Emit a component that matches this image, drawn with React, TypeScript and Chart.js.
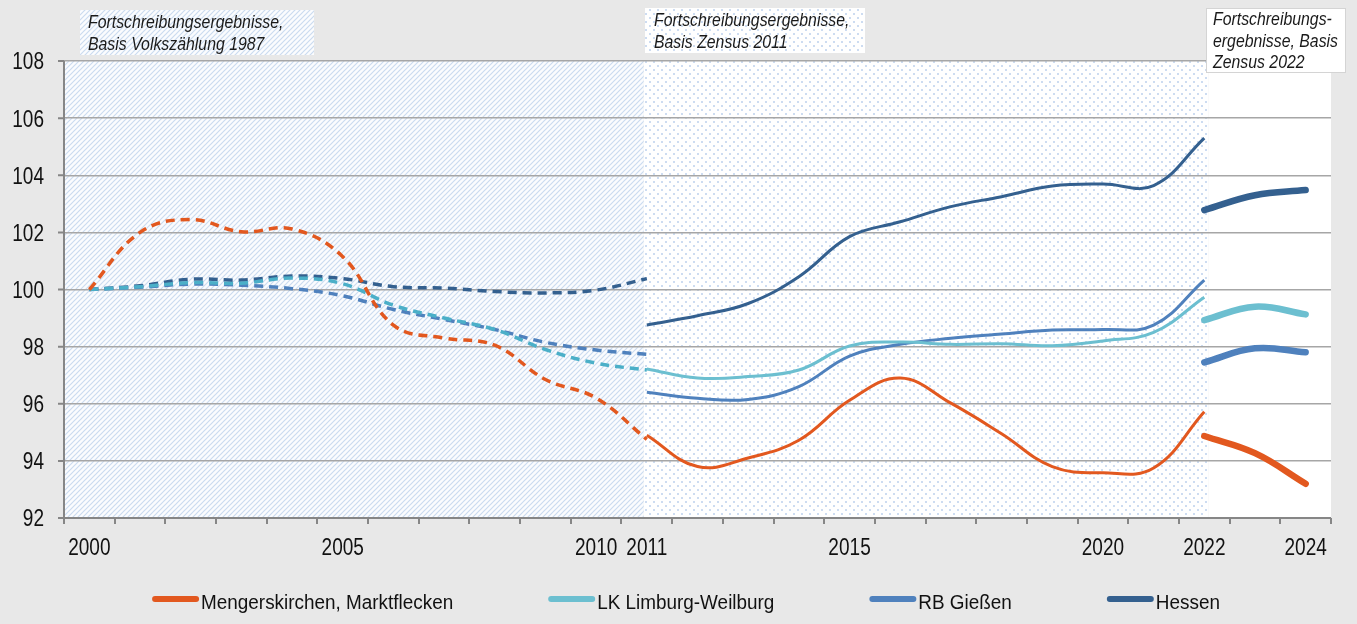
import React, { useEffect, useRef } from 'react';
import { Chart, registerables } from 'chart.js';

Chart.register(...registerables);

// ---------- data ----------
const years = [
  '2000', '2001', '2002', '2003', '2004', '2005', '2006', '2007', '2008', '2009',
  '2010', '2011', '2012', '2013', '2014', '2015', '2016', '2017', '2018', '2019',
  '2020', '2021', '2022', '2023', '2024',
];
const shownYearLabels = ['2000', '2005', '2010', '2011', '2015', '2020', '2022', '2024'];
const yTickValues = [92, 94, 96, 98, 100, 102, 104, 106, 108];

const seriesNames = ['Mengerskirchen, Marktflecken', 'LK Limburg-Weilburg', 'RB Gießen', 'Hessen'];

// Fortschreibung, Basis Volkszählung 1987 (2000-2011)
const mengerVZ1987 = [100, 102.0, 102.45, 102.02, 102.12, 101.15, 98.75, 98.3, 98.05, 96.85, 96.2, 94.75];
const limburgVZ1987 = [100, 100.1, 100.24, 100.22, 100.4, 100.2, 99.45, 99.0, 98.6, 97.9, 97.42, 97.18];
const giessenVZ1987 = [100, 100.08, 100.19, 100.15, 100.03, 99.78, 99.3, 98.95, 98.6, 98.15, 97.88, 97.73];
const hessenVZ1987 = [100, 100.13, 100.36, 100.33, 100.47, 100.38, 100.1, 100.05, 99.93, 99.88, 99.98, 100.38];

// Fortschreibung, Basis Zensus 2011 (2011-2022)
const mengerZ2011 = [94.9, 93.8, 94.1, 94.72, 96.12, 96.9, 96.02, 94.95, 93.8, 93.58, 93.75, 95.72];
const limburgZ2011 = [97.22, 96.9, 96.95, 97.18, 98.02, 98.16, 98.08, 98.1, 98.03, 98.2, 98.5, 99.73];
const giessenZ2011 = [96.4, 96.19, 96.15, 96.6, 97.67, 98.08, 98.29, 98.44, 98.58, 98.6, 98.75, 100.33];
const hessenZ2011 = [98.76, 99.08, 99.51, 100.45, 101.85, 102.37, 102.9, 103.25, 103.62, 103.69, 103.64, 105.3];

// Fortschreibung, Basis Zensus 2022 (2022-2024)
const mengerZ2022 = [94.87, 94.27, 93.2];
const limburgZ2022 = [98.93, 99.4, 99.13];
const giessenZ2022 = [97.45, 97.94, 97.8];
const hessenZ2022 = [102.78, 103.3, 103.48];

const periodNotes = [
  ['Fortschreibungsergebnisse,', 'Basis Volkszählung 1987'],
  ['Fortschreibungsergebnisse,', 'Basis Zensus 2011'],
  ['Fortschreibungs-', 'ergebnisse, Basis', 'Zensus 2022'],
];

// ---------- styles ----------
const seriesColors = ['#e2581f', '#6cbfd0', '#4f81bd', '#34608f'];
const dashedColors = ['#e2581f', '#4bafc8', '#4f81bd', '#34608f'];
const FONT = '"Liberation Sans", Arial, sans-serif';

function pad(arr: number[], start: number) {
  return years.map((_, i) => (i >= start && i < start + arr.length ? arr[i - start] : null));
}

function drawText(
  ctx: CanvasRenderingContext2D,
  text: string,
  x: number,
  y: number,
  size: number,
  sx: number,
  align: 'left' | 'right' | 'center',
  italic = false,
  color = '#111',
) {
  ctx.save();
  ctx.font = `${italic ? 'italic ' : ''}${size}px ${FONT}`;
  ctx.fillStyle = color;
  ctx.textBaseline = 'alphabetic';
  ctx.textAlign = 'left';
  const w = ctx.measureText(text).width * sx;
  const left = align === 'left' ? x : align === 'right' ? x - w : x - w / 2;
  ctx.translate(left, y);
  ctx.scale(sx, 1);
  ctx.fillText(text, 0, 0);
  ctx.restore();
  return w;
}

function makeHatch(ctx: CanvasRenderingContext2D) {
  const c = document.createElement('canvas');
  c.width = 5;
  c.height = 5;
  const g = c.getContext('2d')!;
  g.fillStyle = '#fbfcfe';
  g.fillRect(0, 0, 5, 5);
  g.strokeStyle = '#cbdbf0';
  g.lineWidth = 1.2;
  g.beginPath();
  g.moveTo(-1, 6);
  g.lineTo(6, -1);
  g.moveTo(-1, 1);
  g.lineTo(1, -1);
  g.moveTo(4, 6);
  g.lineTo(6, 4);
  g.stroke();
  return ctx.createPattern(c, 'repeat')!;
}

function makeDots(ctx: CanvasRenderingContext2D) {
  const c = document.createElement('canvas');
  c.width = 8;
  c.height = 8;
  const g = c.getContext('2d')!;
  g.fillStyle = '#ffffff';
  g.fillRect(0, 0, 8, 8);
  g.fillStyle = '#cddcf1';
  g.fillRect(1, 1, 2, 2);
  g.fillRect(5, 5, 2, 2);
  return ctx.createPattern(c, 'repeat')!;
}

export default function App() {
  const ref = useRef<HTMLCanvasElement>(null);

  useEffect(() => {
    const canvas = ref.current!;
    const ctx0 = canvas.getContext('2d')!;
    const hatch = makeHatch(ctx0);
    const dots = makeDots(ctx0);

    const groups = [
      { arrays: [mengerVZ1987, limburgVZ1987, giessenVZ1987, hessenVZ1987], start: 0, kind: 'dash' },
      { arrays: [mengerZ2011, limburgZ2011, giessenZ2011, hessenZ2011], start: 11, kind: 'thin' },
      { arrays: [mengerZ2022, limburgZ2022, giessenZ2022, hessenZ2022], start: 22, kind: 'thick' },
    ];
    const datasets: any[] = [];
    groups.forEach((g) => {
      g.arrays.forEach((arr, si) => {
        datasets.push({
          label: seriesNames[si],
          data: pad(arr, g.start),
          borderColor: g.kind === 'dash' ? dashedColors[si] : seriesColors[si],
          borderWidth: g.kind === 'dash' ? 3.5 : g.kind === 'thin' ? 3 : 6.5,
          borderDash: g.kind === 'dash' ? [9, 6] : [],
          borderCapStyle: g.kind === 'thick' ? 'round' : 'butt',
          borderJoinStyle: 'round',
          pointRadius: 0,
          tension: 0.4,
          spanGaps: false,
          fill: false,
        });
      });
    });

    const bgPlugin = {
      id: 'bg',
      beforeDraw(chart: any) {
        const ctx = chart.ctx as CanvasRenderingContext2D;
        const { left, right, top, bottom } = chart.chartArea;
        const xs = chart.scales.x;
        ctx.save();
        ctx.fillStyle = '#e8e8e8';
        ctx.fillRect(0, 0, chart.width, chart.height);
        const x2011 = xs.getPixelForValue(11) - 3;
        const x2022 = xs.getPixelForValue(22) + 4;
        ctx.fillStyle = hatch;
        ctx.fillRect(left, top, x2011 - left, bottom - top);
        ctx.fillStyle = dots;
        ctx.fillRect(x2011, top, x2022 - x2011, bottom - top);
        ctx.fillStyle = '#ffffff';
        ctx.fillRect(x2022, top, right - x2022, bottom - top);
        ctx.restore();
      },
      afterDraw(chart: any) {
        const ctx = chart.ctx as CanvasRenderingContext2D;
        const { left, right, top, bottom } = chart.chartArea;
        const xs = chart.scales.x;
        const ys = chart.scales.y;
        ctx.save();
        // axes
        ctx.strokeStyle = '#868686';
        ctx.lineWidth = 2;
        ctx.beginPath();
        ctx.moveTo(left, top);
        ctx.lineTo(left, bottom + 1);
        ctx.moveTo(left - 1, bottom);
        ctx.lineTo(right, bottom);
        yTickValues.forEach((v) => {
          const y = ys.getPixelForValue(v);
          ctx.moveTo(left - 6, y);
          ctx.lineTo(left, y);
        });
        const step = (right - left) / years.length;
        for (let k = 0; k <= years.length; k++) {
          const x = Math.round(left + k * step);
          ctx.moveTo(x, bottom);
          ctx.lineTo(x, bottom + 6);
        }
        ctx.stroke();
        ctx.restore();

        // tick labels
        yTickValues.forEach((v) => {
          drawText(ctx, String(v), 44, ys.getPixelForValue(v) + 8.4, 23.5, 0.81, 'right');
        });
        years.forEach((yr, i) => {
          if (shownYearLabels.includes(yr)) {
            drawText(ctx, yr, xs.getPixelForValue(i), 555, 23.5, 0.81, 'center');
          }
        });

        // period notes
        const boxes = [
          { x: 80, y: 10, w: 234, h: 45, fill: hatch, tx: 88, base: [28, 50] },
          { x: 645, y: 8, w: 220, h: 45, fill: dots, tx: 654, base: [26, 48] },
          { x: 1206, y: 8, w: 140, h: 65, fill: '#ffffff', tx: 1213, base: [25, 47, 68] },
        ];
        boxes.forEach((b, bi) => {
          ctx.save();
          ctx.fillStyle = b.fill as any;
          ctx.fillRect(b.x, b.y, b.w, b.h);
          if (bi === 2) {
            ctx.strokeStyle = '#d4d4d4';
            ctx.lineWidth = 1;
            ctx.strokeRect(b.x + 0.5, b.y + 0.5, b.w - 1, b.h - 1);
          }
          ctx.restore();
          periodNotes[bi].forEach((line, li) => {
            drawText(ctx, line, b.tx, b.base[li], 18, 0.88, 'left', true, '#1a1a1a');
          });
        });

        // legend
        ctx.save();
        ctx.font = `20px ${FONT}`;
        const sx = 0.945;
        const lineLen = 47;
        const gap = 95;
        const widths = seriesNames.map((n) => ctx.measureText(n).width * sx);
        const total = widths.reduce((a, w) => a + w + lineLen + 2, 0) + gap * 3;
        let x = 686 - total / 2;
        ctx.restore();
        seriesNames.forEach((n, i) => {
          ctx.save();
          ctx.strokeStyle = seriesColors[i];
          ctx.lineWidth = 6;
          ctx.lineCap = 'round';
          ctx.beginPath();
          ctx.moveTo(x + 3, 599);
          ctx.lineTo(x + lineLen - 3, 599);
          ctx.stroke();
          ctx.restore();
          drawText(ctx, n, x + lineLen + 2, 609, 20, sx, 'left');
          x += lineLen + 2 + widths[i] + gap;
        });
      },
    };

    const chart = new Chart(canvas, {
      type: 'line',
      data: { labels: years, datasets },
      options: {
        animation: false,
        responsive: false,
        devicePixelRatio: 1,
        layout: { padding: { left: 64, top: 61, right: 26, bottom: 106 } },
        plugins: { legend: { display: false }, tooltip: { enabled: false } },
        scales: {
          x: {
            type: 'category',
            offset: true,
            display: false,
          },
          y: {
            min: 92,
            max: 108,
            ticks: { display: false, stepSize: 2 },
            grid: { color: '#a6a6a6', lineWidth: 1.5, drawTicks: false },
            border: { display: false },
          },
        },
      },
      plugins: [bgPlugin],
    });
    return () => chart.destroy();
  }, []);

  return (
    <div style={{ position: 'fixed', left: 0, top: 0, width: 1357, height: 624 }}>
      <canvas ref={ref} width={1357} height={624} style={{ display: 'block' }} />
    </div>
  );
}
